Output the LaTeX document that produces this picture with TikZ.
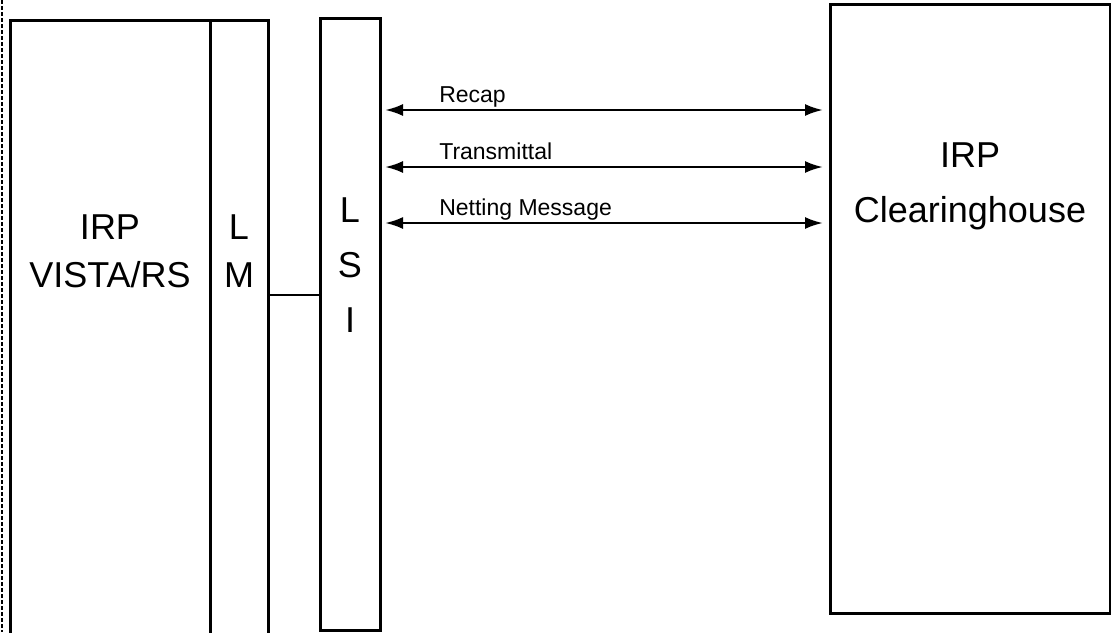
\documentclass[tikz,border=0pt]{standalone}
\usepackage{fontspec}
\setmainfont{Liberation Sans}
\usetikzlibrary{positioning,arrows.meta}

\tikzset{
  blk/.style={draw,line width=3pt,inner sep=0pt,outer sep=0pt,anchor=north west},
  bigtxt/.style={font=\fontsize{36}{48}\selectfont,align=center,anchor=north,inner sep=0pt},
  lbl/.style={font=\fontsize{23}{27}\selectfont,inner sep=0pt},
  dlink/.style={{Latex[length=18pt,width=12pt]}-{Latex[length=18pt,width=12pt]},line width=2.5pt,shorten <=5pt,shorten >=7pt},
}

\begin{document}
\begin{tikzpicture}[x=1pt,y=-1pt]
\clip (0,0) rectangle (1111,632);
\fill[white] (0,0) rectangle (1111,632);
% boxes
\node[blk,minimum width=200pt,minimum height=700pt] (vista) at (10,20) {};
\node[blk,minimum width=58pt,minimum height=700pt] (lm) at (210,20) {};
\node[blk,minimum width=60pt,minimum height=612pt] (lsi) at (320,18) {};
\node[blk,minimum width=280pt,minimum height=609pt] (clear) at (830,4) {};
% texts
\node[bigtxt] (vistatxt) at (110,215) {IRP\\VISTA/RS};
\node[bigtxt] (lmtxt) at (239,215) {L\\M};
\node[bigtxt,font=\fontsize{36}{55}\selectfont] (lsitxt) at (350,198) {L\\S\\I};
\node[bigtxt,font=\fontsize{36}{55}\selectfont] (cleartxt) at (970,143) {IRP\\Clearinghouse};
% left edge
\draw[line width=2pt,dash pattern=on 4pt off 2pt] (2,0) -- (2,632);
% link LM - LSI
\draw[line width=2.5pt] (lm.east |- 0,295) -- (lsi.west |- 0,295);
% messages
\foreach \y/\txt in {110/Recap,167/Transmittal,223/Netting Message}
  \draw[dlink] (lsi.east |- 0,\y) -- (clear.west |- 0,\y)
    node[lbl,pos=0.129,anchor=base west,yshift=8pt] {\txt};
\end{tikzpicture}
\end{document}
